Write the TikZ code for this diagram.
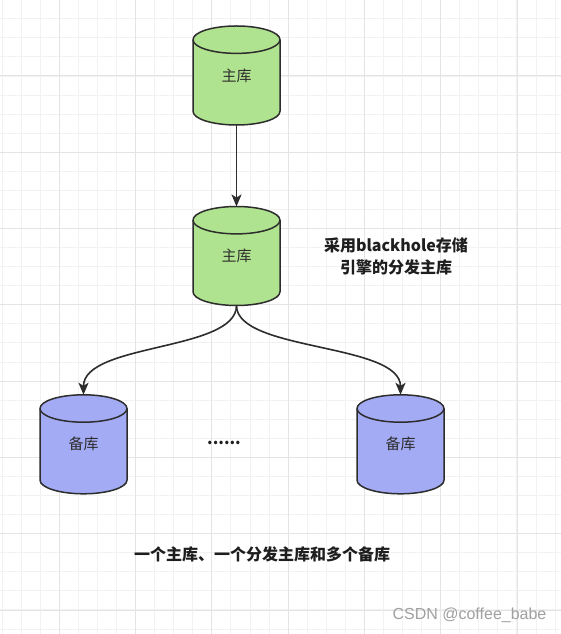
\documentclass[tikz,border=0pt]{standalone}
\usepackage{fontspec}
\setmainfont{Liberation Sans}
\newfontfamily\cjk{Noto Sans CJK SC}
\usetikzlibrary{arrows.meta,calc}
\definecolor{linec}{RGB}{45,45,45}
\definecolor{greenf}{RGB}{176,227,143}
\definecolor{bluef}{RGB}{164,171,245}
\definecolor{gridminor}{RGB}{242,242,242}
\definecolor{gridmajor}{RGB}{228,228,228}
\definecolor{wm}{RGB}{160,160,160}
\newcommand\drawcyl[2]{%
  \filldraw[fill=#2, draw=linec, line width=1.5pt]
    ($(#1.north west)+(0,-13.7)$) -- ($(#1.south west)+(0,13.7)$)
    arc[start angle=180,end angle=360,x radius=43.5pt,y radius=13.7pt]
    -- ($(#1.north east)+(0,-13.7)$)
    arc[start angle=0,end angle=180,x radius=43.5pt,y radius=13.7pt] -- cycle;
  \draw[linec, line width=1.5pt] ($(#1.north west)+(0,-13.7)$)
    arc[start angle=180,end angle=360,x radius=43.5pt,y radius=13.7pt];
}
\begin{document}
\begin{tikzpicture}[x=1pt,y=1pt,
  cylbox/.style={minimum width=87pt, minimum height=99pt, inner sep=0pt, outer sep=0pt},
  cyltext/.style={font=\cjk\fontsize{15}{18}\selectfont, text=linec, inner sep=0pt},
  boldtext/.style={font=\cjk\bfseries\fontsize{16}{22}\selectfont, text={rgb,255:red,30;green,30;blue,30}, align=center, inner sep=0pt},
  conn/.style={draw=linec, line width=1.6pt, -{Stealth[length=12pt,width=10pt,inset=3pt]}}]
\useasboundingbox (0,0) rectangle (561,634);
\fill[white] (0,0) rectangle (561,634);
\foreach \i in {0,...,29} { \draw[gridminor, line width=1pt] ({2.1+19.07*\i},0) -- ++(0,634); }
\foreach \j in {0,...,33} { \draw[gridminor, line width=1pt] (0,{634+0.27-19.07*\j}) -- ++(561,0); }
\foreach \k in {0,...,6} { \draw[gridmajor, line width=1pt] ({59.3+76.3*\k},0) -- ++(0,634); }
\foreach \k in {0,...,7} { \draw[gridmajor, line width=1pt] (0,{634-76-76.3*\k}) -- ++(561,0); }

\node[cylbox] (top) at (236.5,558.5) {};
\drawcyl{top}{greenf}
\node[cyltext] (topl) at (top.center) {主库};

\node[cylbox] (mid) at (236.5,378) {};
\drawcyl{mid}{greenf}
\node[cyltext] (midl) at (mid.center) {主库};

\node[cylbox] (bl) at (83.5,189.7) {};
\drawcyl{bl}{bluef}
\node[cyltext] (bll) at (bl.center) {备库};

\node[cylbox] (br) at (400.5,189.7) {};
\drawcyl{br}{bluef}
\node[cyltext] (brl) at (br.center) {备库};

\draw[conn] (top.south) -- (mid.north);
\draw[conn] (mid.south) .. controls +(0,-46) and +(0,52) .. (bl.north);
\draw[conn] (mid.south) .. controls +(0,-46) and +(0,52) .. (br.north);

\node[boldtext] (desc) at (396,378) {采用blackhole存储\\引擎的分发主库};
\node[boldtext, anchor=base] (dots) at (224,189) {......};
\node[boldtext] (summary) at (262,80) {一个主库、一个分发主库和多个备库};
\node[font=\fontsize{16}{19}\selectfont, text=wm, inner sep=0pt] (wmark) at (469.5,19) {CSDN @coffee\_babe};
\end{tikzpicture}
\end{document}
